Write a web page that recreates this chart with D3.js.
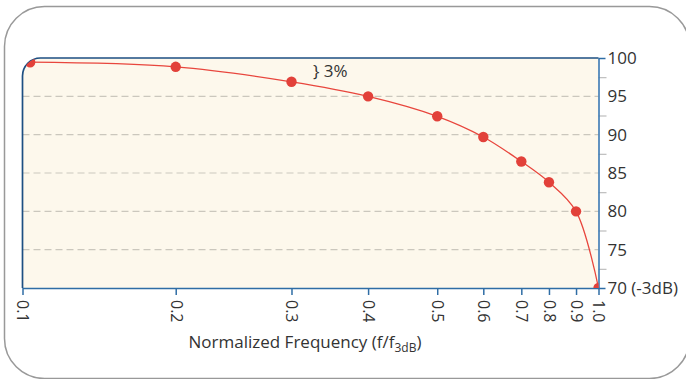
<!DOCTYPE html>
<html><head><meta charset="utf-8">
<script src="https://cdn.jsdelivr.net/npm/d3@7"></script>
<style>
body{margin:0;background:#fff;}
text{font-family:"Open Sans",sans-serif;fill:#333;}
</style>
</head><body>
<svg id="c" width="686" height="379"></svg>
<script>
// ---- data ----
const freq = [0.105, 0.2, 0.3, 0.4, 0.5, 0.6, 0.7, 0.8, 0.9, 1.0];
const response = [99.45, 98.85, 96.9, 95.0, 92.4, 89.7, 86.5, 83.8, 80.0, 70.0];
const xTicks = [0.1, 0.2, 0.3, 0.4, 0.5, 0.6, 0.7, 0.8, 0.9, 1.0];
const xTickLabels = ["0.1", "0.2", "0.3", "0.4", "0.5", "0.6", "0.7", "0.8", "0.9", "1.0"];
const yMajor = [100, 95, 90, 85, 80, 75, 70];
const yMajorLabels = ["100", "95", "90", "85", "80", "75", "70 (-3dB)"];
const yMinor = [97.5, 92.5, 87.5, 82.5, 77.5, 72.5];
const yGrid = [95, 90, 85, 80, 75];
const annotation = "} 3%";

// ---- layout ----
const svg = d3.select("#c");
const L = 22.5, R = 598.5, T = 58, B = 288, rc = 18;
// hand-spaced frequency axis (piecewise, as in the original)
const xFrac = [0, 0.266, 0.467, 0.600, 0.720, 0.800, 0.866, 0.914, 0.961, 1];
const x = d3.scaleLinear().domain(xTicks).range(xFrac.map(f => L + f * (R - L)));
const y = d3.scaleLinear().domain([70, 100]).range([B, T]);

// outer frame
svg.append("rect").attr("x", 4.5).attr("y", 6.5).attr("width", 685).attr("height", 372)
  .attr("rx", 40).attr("fill", "none").attr("stroke", "#999").attr("stroke-width", 1.5);

const plotPath = `M${L},${B}V${T + rc}A${rc},${rc} 0 0 1 ${L + rc},${T}H${R}V${B}Z`;
svg.append("defs").append("clipPath").attr("id", "clip").append("path").attr("d", plotPath);
svg.append("path").attr("d", plotPath).attr("fill", "#fdf8ec");

// grid
svg.append("g").selectAll("line").data(yGrid).join("line")
  .attr("x1", L).attr("x2", R).attr("y1", d => y(d)).attr("y2", d => y(d))
  .attr("stroke", "#cbc7bd").attr("stroke-width", 1.2).attr("stroke-dasharray", "7,4");

// bottom axis
const xAxis = svg.append("g").attr("transform", `translate(0,${B})`)
  .call(d3.axisBottom(x).tickValues(xTicks).tickSize(7).tickSizeOuter(0)
    .tickFormat((d, i) => xTickLabels[i]));
xAxis.select(".domain").attr("stroke", "#2f6da5").attr("stroke-width", 1.5);
xAxis.selectAll(".tick line").attr("stroke", "#2f6da5").attr("stroke-width", 1.5);
xAxis.selectAll(".tick text")
  .attr("transform", "rotate(90)").attr("y", 0).attr("x", 12).attr("dy", "0.35em")
  .style("text-anchor", "start").style("font-size", "16px")
  .style("font-family", "'Open Sans',sans-serif").attr("fill", "#3a3a3a");

// right axis: minor ticks
const yMinorAxis = svg.append("g").attr("transform", `translate(${R},0)`)
  .call(d3.axisRight(y).tickValues(yMinor).tickSize(8).tickFormat(""));
yMinorAxis.select(".domain").remove();
yMinorAxis.selectAll(".tick line").attr("stroke", "#bdbdbd").attr("stroke-width", 1.2);

// right axis: major labels
const yAxis = svg.append("g").attr("transform", `translate(${R},0)`)
  .call(d3.axisRight(y).tickValues(yMajor).tickSize(0).tickPadding(9)
    .tickFormat(d => yMajorLabels[yMajor.indexOf(d)]));
yAxis.select(".domain").attr("stroke", "#3a78b2").attr("stroke-width", 1.6);
yAxis.selectAll(".tick text").style("font-size", "17px")
  .style("font-family", "'Open Sans',sans-serif").attr("fill", "#3a3a3a");
yAxis.selectAll(".tick").filter(d => d === 100 || d === 70).append("line")
  .attr("x2", 7).attr("stroke", "#2f6da5").attr("stroke-width", 1.5);

// top/left border
svg.append("path")
  .attr("d", `M${L},${B}V${T + rc}A${rc},${rc} 0 0 1 ${L + rc},${T}H${R}`)
  .attr("fill", "none").attr("stroke", "#1d4f82").attr("stroke-width", 1.7);

// data
const pts = freq.map((f, i) => [x(f), y(response[i])]);
const g = svg.append("g").attr("clip-path", "url(#clip)");
g.append("path").datum(pts)
  .attr("d", d3.line().curve(d3.curveCatmullRom.alpha(0.5)))
  .attr("fill", "none").attr("stroke", "#e8463d").attr("stroke-width", 1.3);
g.selectAll("circle").data(pts).join("circle")
  .attr("cx", d => d[0]).attr("cy", d => d[1]).attr("r", 5.2).attr("fill", "#e2413a");

// annotation
svg.append("text").attr("x", x(0.328)).attr("y", y(98.3)).attr("dy", "0.35em")
  .style("font-size", "17px").attr("fill", "#3a3a3a").text(annotation);

// axis title
const title = svg.append("text").attr("x", 305).attr("y", 348)
  .attr("text-anchor", "middle").style("font-size", "17px").attr("fill", "#3a3a3a");
title.append("tspan").text("Normalized Frequency (f/f");
title.append("tspan").attr("dy", 4).style("font-size", "12px").text("3dB");
title.append("tspan").attr("dy", -4).text(")");
</script>
</body></html>
